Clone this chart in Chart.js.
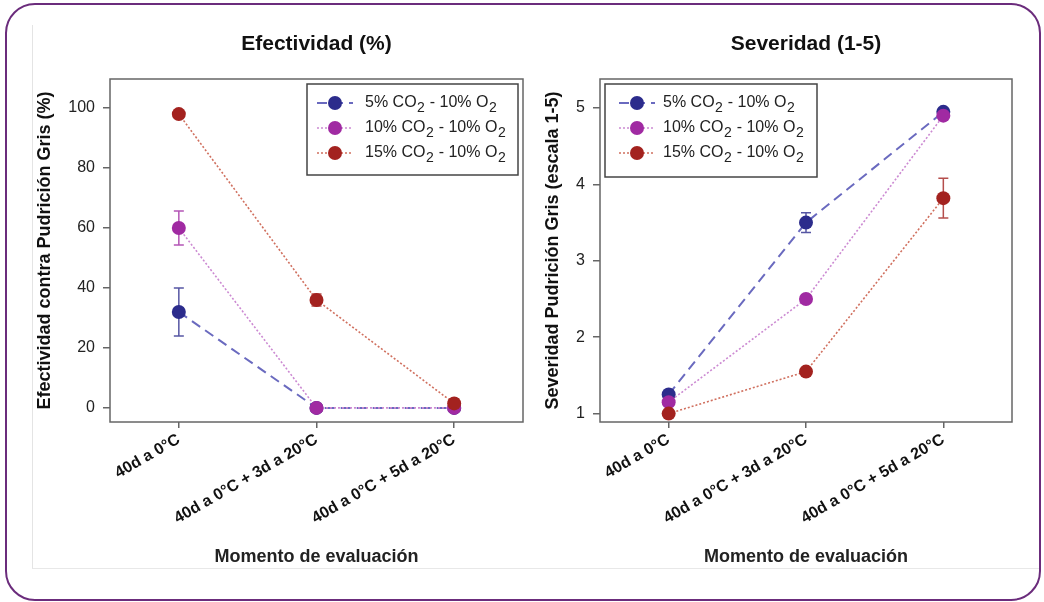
<!DOCTYPE html>
<html>
<head>
<meta charset="utf-8">
<script src="https://cdn.jsdelivr.net/npm/chart.js@4.4.1/dist/chart.umd.min.js"></script>
<style>
    html, body { margin: 0; padding: 0; background: #fff; }
    body { width: 1044px; height: 602px; position: relative; overflow: hidden; font-family: "Liberation Sans", Arial, sans-serif; }
    #frame { position: absolute; left: 5px; top: 3px; width: 1036px; height: 598px; box-sizing: border-box; border: 2.5px solid #6b2c7c; border-radius: 30px; }
    #inner { position: absolute; left: 32px; top: 25px; width: 1008px; height: 543px; border-left: 1px solid #e4e4e4; border-bottom: 1px solid #e8e8e8; }
    canvas { position: absolute; top: 0; }
    #chartEfect { left: 0; }
    #chartSever { left: 530px; }
</style>
</head>
<body>
<div id="inner"></div>
<div id="frame"></div>
<canvas id="chartEfect" width="530" height="602"></canvas>
<canvas id="chartSever" width="514" height="602"></canvas>
<script>
const categories = ['40d a 0°C', '40d a 0°C + 3d a 20°C', '40d a 0°C + 5d a 20°C'];
const seriesNames = ['5% CO2 - 10% O2', '10% CO2 - 10% O2', '15% CO2 - 10% O2'];

// Efectividad (%)
const efect5 = [32, 0, 0];
const efect5Err = [8, 0, 0];
const efect10 = [60, 0, 0];
const efect10Err = [5.7, 0, 0];
const efect15 = [98, 36, 1.5];
const efect15Err = [1, 2, 1.5];

// Severidad (1-5)
const sever5 = [1.25, 3.5, 4.95];
const sever5Err = [0.03, 0.13, 0.03];
const sever10 = [1.15, 2.5, 4.9];
const sever10Err = [0.03, 0.04, 0.03];
const sever15 = [1.0, 1.55, 3.82];
const sever15Err = [0.02, 0.04, 0.26];

const FONT = '"Liberation Sans", Arial, Helvetica, sans-serif';
Chart.defaults.font.family = FONT;

const seriesStyle = [
    { point: '#2c2c8c', line: '#6a6abf', dash: [10, 6], width: 2 },
    { point: '#a02aa2', line: '#cc8ad2', dash: [2, 2], width: 1.6 },
    { point: '#a3221f', line: '#d0705f', dash: [2, 2], width: 1.6 }
];

function buildDatasets(values, errors) {
    return values.map(function(v, i) {
        const s = seriesStyle[i];
        return {
            label: seriesNames[i],
            data: v,
            errors: errors[i],
            borderColor: s.line,
            borderDash: s.dash,
            borderWidth: s.width,
            pointBackgroundColor: s.point,
            pointBorderColor: s.point,
            pointBorderWidth: 0,
            pointRadius: 7,
            pointHoverRadius: 7,
            errColor: s.point,
            order: 3 - i,
            tension: 0,
            fill: false
        };
    });
}

// frame around the plot area
const framePlugin = {
    id: 'plotFrame',
    beforeDatasetsDraw(chart) {
        const { ctx, chartArea } = chart;
        ctx.save();
        ctx.strokeStyle = '#666';
        ctx.lineWidth = 1.5;
        ctx.strokeRect(chartArea.left, chartArea.top, chartArea.right - chartArea.left, chartArea.bottom - chartArea.top);
        ctx.restore();
    }
};

const errorBarPlugin = {
    id: 'errorBars',
    beforeDatasetsDraw(chart) {
        const ctx = chart.ctx;
        const yScale = chart.scales.y;
        chart.data.datasets.forEach(function(ds, i) {
            const meta = chart.getDatasetMeta(i);
            meta.data.forEach(function(pt, j) {
                const e = ds.errors[j];
                if (!e) return;
                const yTop = yScale.getPixelForValue(ds.data[j] + e);
                const yBot = yScale.getPixelForValue(ds.data[j] - e);
                ctx.save();
                ctx.strokeStyle = ds.errColor;
                ctx.globalAlpha = 0.8;
                ctx.lineWidth = 1.5;
                ctx.beginPath();
                ctx.moveTo(pt.x, yTop); ctx.lineTo(pt.x, yBot);
                ctx.moveTo(pt.x - 5, yTop); ctx.lineTo(pt.x + 5, yTop);
                ctx.moveTo(pt.x - 5, yBot); ctx.lineTo(pt.x + 5, yBot);
                ctx.stroke();
                ctx.restore();
            });
        });
    }
};

function drawSubText(ctx, text, x, y) {
    const parts = text.split(/(?<=O)2/);
    let cx = x;
    parts.forEach(function(p, k) {
        ctx.font = '16px ' + FONT;
        ctx.fillText(p, cx, y);
        cx += ctx.measureText(p).width;
        if (k < parts.length - 1) {
            ctx.font = '14px ' + FONT;
            ctx.fillText('2', cx + 0.5, y + 5);
            cx += ctx.measureText('2').width + 1;
        }
    });
}

const legendPlugin = {
    id: 'boxLegend',
    afterDraw(chart, args, o) {
        const { ctx, chartArea } = chart;
        const x0 = o.side === 'right' ? chartArea.right - 5 - o.width : chartArea.left + 5;
        const y0 = chartArea.top + 5;
        ctx.save();
        ctx.fillStyle = '#fff';
        ctx.fillRect(x0, y0, o.width, o.height);
        ctx.strokeStyle = '#444';
        ctx.lineWidth = 1.5;
        ctx.strokeRect(x0, y0, o.width, o.height);
        chart.data.datasets.forEach(function(ds, i) {
            const cy = y0 + 19 + i * 25;
            ctx.setLineDash(ds.borderDash);
            ctx.strokeStyle = ds.borderColor;
            ctx.lineWidth = ds.borderWidth;
            ctx.beginPath();
            ctx.moveTo(x0 + o.symX - 18, cy);
            ctx.lineTo(x0 + o.symX + 18, cy);
            ctx.stroke();
            ctx.setLineDash([]);
            ctx.fillStyle = ds.pointBackgroundColor;
            ctx.beginPath();
            ctx.arc(x0 + o.symX, cy, 7, 0, Math.PI * 2);
            ctx.fill();
            ctx.fillStyle = '#222';
            ctx.textBaseline = 'middle';
            drawSubText(ctx, ds.label, x0 + 58, cy);
        });
        ctx.restore();
    }
};

function makePanel(id, title, yTitle, datasets, yMin, yMax, step, yWidth, pad, legend) {
    return new Chart(document.getElementById(id), {
        type: 'line',
        data: { labels: categories, datasets: datasets },
        plugins: [framePlugin, errorBarPlugin, legendPlugin],
        options: {
            responsive: false,
            animation: false,
            events: [],
            layout: { padding: pad },
            plugins: {
                legend: { display: false },
                tooltip: { enabled: false },
                title: {
                    display: true,
                    text: title,
                    fullSize: false,
                    color: '#111',
                    font: { size: 21, weight: 'bold' },
                    padding: { top: 0, bottom: 22.4 }
                },
                boxLegend: legend
            },
            scales: {
                x: {
                    type: 'category',
                    offset: true,
                    grid: { drawOnChartArea: false, drawTicks: true, tickLength: 6, color: '#666', lineWidth: 1.5 },
                    border: { display: false },
                    ticks: { minRotation: 30, maxRotation: 30, padding: 2, color: '#111', font: { size: 16, weight: 'bold' } },
                    title: { display: true, text: 'Momento de evaluación', color: '#222', font: { size: 18, weight: 'bold' }, padding: 0 },
                    afterFit: function(s) { s.height = 146; }
                },
                y: {
                    min: yMin,
                    max: yMax,
                    grid: { drawOnChartArea: false, drawTicks: true, tickLength: 7, color: '#666', lineWidth: 1.5 },
                    border: { display: false },
                    ticks: { stepSize: step, includeBounds: false, padding: 8, color: '#222', font: { size: 16 } },
                    title: { display: true, text: yTitle, color: '#111', font: { size: 18, weight: 'bold' }, padding: 0 },
                    afterFit: function(s) { s.width = yWidth; }
                }
            }
        }
    });
}

makePanel('chartEfect', 'Efectividad (%)', 'Efectividad contra Pudrición Gris (%)',
    buildDatasets([efect5, efect10, efect15], [efect5Err, efect10Err, efect15Err]),
    -4.7, 109.7, 20, 76,
    { left: 34, right: 7, top: 31.4, bottom: 34 },
    { side: 'right', width: 211, height: 91, symX: 28 });

makePanel('chartSever', 'Severidad (1-5)', 'Severidad Pudrición Gris (escala 1-5)',
    buildDatasets([sever5, sever10, sever15], [sever5Err, sever10Err, sever15Err]),
    0.89, 5.38, 1, 58,
    { left: 12, right: 32, top: 31.4, bottom: 34 },
    { side: 'left', width: 212, height: 93, symX: 32 });
</script>
</body>
</html>
